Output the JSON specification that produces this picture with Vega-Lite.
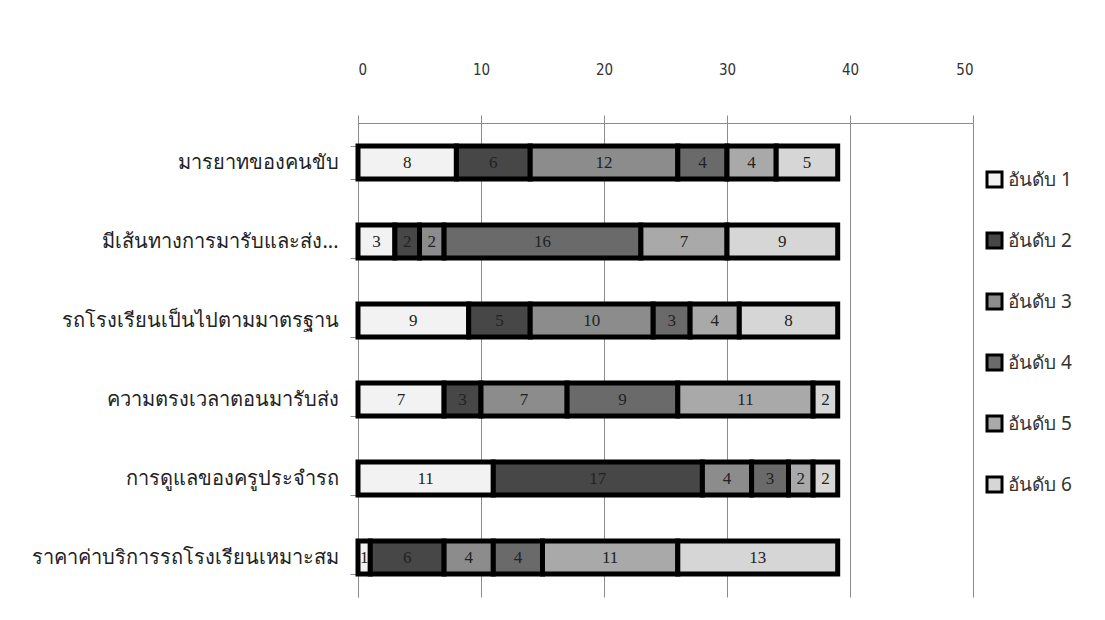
{
  "$schema": "https://vega.github.io/schema/vega-lite/v6.json",
  "width": 615,
  "height": 474,
  "autosize": {"type": "none"},
  "padding": {"left": 358, "top": 123, "right": 132, "bottom": 23},
  "background": "white",
  "config": {
    "view": {"stroke": null},
    "font": "Noto Sans"
  },
  "data": {
    "values": [
      {"item": "มารยาทของคนขับ", "rank": "อันดับ 1", "count": 8},
      {"item": "มารยาทของคนขับ", "rank": "อันดับ 2", "count": 6},
      {"item": "มารยาทของคนขับ", "rank": "อันดับ 3", "count": 12},
      {"item": "มารยาทของคนขับ", "rank": "อันดับ 4", "count": 4},
      {"item": "มารยาทของคนขับ", "rank": "อันดับ 5", "count": 4},
      {"item": "มารยาทของคนขับ", "rank": "อันดับ 6", "count": 5},
      {"item": "มีเส้นทางการมารับและส่ง...", "rank": "อันดับ 1", "count": 3},
      {"item": "มีเส้นทางการมารับและส่ง...", "rank": "อันดับ 2", "count": 2},
      {"item": "มีเส้นทางการมารับและส่ง...", "rank": "อันดับ 3", "count": 2},
      {"item": "มีเส้นทางการมารับและส่ง...", "rank": "อันดับ 4", "count": 16},
      {"item": "มีเส้นทางการมารับและส่ง...", "rank": "อันดับ 5", "count": 7},
      {"item": "มีเส้นทางการมารับและส่ง...", "rank": "อันดับ 6", "count": 9},
      {"item": "รถโรงเรียนเป็นไปตามมาตรฐาน", "rank": "อันดับ 1", "count": 9},
      {"item": "รถโรงเรียนเป็นไปตามมาตรฐาน", "rank": "อันดับ 2", "count": 5},
      {"item": "รถโรงเรียนเป็นไปตามมาตรฐาน", "rank": "อันดับ 3", "count": 10},
      {"item": "รถโรงเรียนเป็นไปตามมาตรฐาน", "rank": "อันดับ 4", "count": 3},
      {"item": "รถโรงเรียนเป็นไปตามมาตรฐาน", "rank": "อันดับ 5", "count": 4},
      {"item": "รถโรงเรียนเป็นไปตามมาตรฐาน", "rank": "อันดับ 6", "count": 8},
      {"item": "ความตรงเวลาตอนมารับส่ง", "rank": "อันดับ 1", "count": 7},
      {"item": "ความตรงเวลาตอนมารับส่ง", "rank": "อันดับ 2", "count": 3},
      {"item": "ความตรงเวลาตอนมารับส่ง", "rank": "อันดับ 3", "count": 7},
      {"item": "ความตรงเวลาตอนมารับส่ง", "rank": "อันดับ 4", "count": 9},
      {"item": "ความตรงเวลาตอนมารับส่ง", "rank": "อันดับ 5", "count": 11},
      {"item": "ความตรงเวลาตอนมารับส่ง", "rank": "อันดับ 6", "count": 2},
      {"item": "การดูแลของครูประจำรถ", "rank": "อันดับ 1", "count": 11},
      {"item": "การดูแลของครูประจำรถ", "rank": "อันดับ 2", "count": 17},
      {"item": "การดูแลของครูประจำรถ", "rank": "อันดับ 3", "count": 4},
      {"item": "การดูแลของครูประจำรถ", "rank": "อันดับ 4", "count": 3},
      {"item": "การดูแลของครูประจำรถ", "rank": "อันดับ 5", "count": 2},
      {"item": "การดูแลของครูประจำรถ", "rank": "อันดับ 6", "count": 2},
      {"item": "ราคาค่าบริการรถโรงเรียนเหมาะสม", "rank": "อันดับ 1", "count": 1},
      {"item": "ราคาค่าบริการรถโรงเรียนเหมาะสม", "rank": "อันดับ 2", "count": 6},
      {"item": "ราคาค่าบริการรถโรงเรียนเหมาะสม", "rank": "อันดับ 3", "count": 4},
      {"item": "ราคาค่าบริการรถโรงเรียนเหมาะสม", "rank": "อันดับ 4", "count": 4},
      {"item": "ราคาค่าบริการรถโรงเรียนเหมาะสม", "rank": "อันดับ 5", "count": 11},
      {"item": "ราคาค่าบริการรถโรงเรียนเหมาะสม", "rank": "อันดับ 6", "count": 13}
    ]
  },
  "encoding": {
    "y": {
      "field": "item",
      "type": "nominal",
      "sort": null,
      "title": null,
      "scale": {"paddingInner": 0.58, "paddingOuter": 0.29},
      "axis": {
        "orient": "left",
        "domainColor": "#8c8c8c",
        "tickColor": "#8c8c8c",
        "tickSize": 8,
        "tickBand": "extent",
        "labelPadding": 12,
        "labelFontSize": 20,
        "labelColor": "#222222",
        "labelLimit": 400
      }
    }
  },
  "layer": [
    {
      "mark": {"type": "bar", "stroke": "black", "strokeWidth": 5},
      "encoding": {
        "x": {
          "field": "count",
          "type": "quantitative",
          "stack": "zero",
          "title": null,
          "scale": {"domain": [0, 50], "nice": false},
          "axis": {
            "orient": "top",
            "values": [0, 10, 20, 30, 40, 50],
            "grid": true,
            "gridColor": "#8c8c8c",
            "domainColor": "#8c8c8c",
            "tickColor": "#8c8c8c",
            "tickSize": 8,
            "labelPadding": 38,
            "labelFontSize": 15,
            "labelColor": "#333333",
            "labelFont": "DejaVu Sans Condensed"
          }
        },
        "color": {
          "field": "rank",
          "type": "nominal",
          "scale": {
            "domain": ["อันดับ 1", "อันดับ 2", "อันดับ 3", "อันดับ 4", "อันดับ 5", "อันดับ 6"],
            "range": ["#f2f2f2", "#474747", "#8c8c8c", "#6a6a6a", "#a9a9a9", "#d6d6d6"]
          },
          "legend": {
            "title": null,
            "orient": "none",
            "legendX": 627,
            "legendY": 47,
            "symbolType": "square",
            "symbolSize": 225,
            "symbolStrokeColor": "black",
            "symbolStrokeWidth": 3,
            "symbolOpacity": 1,
            "rowPadding": 34,
            "labelFontSize": 19,
            "labelColor": "#333333",
            "labelOffset": 4
          }
        },
        "order": {"field": "rank"}
      }
    },
    {
      "mark": {"type": "text", "fontSize": 17, "color": "#222222", "font": "Liberation Serif"},
      "encoding": {
        "x": {"field": "count", "type": "quantitative", "stack": "zero", "bandPosition": 0.5},
        "detail": {"field": "rank"},
        "order": {"field": "rank"},
        "text": {"field": "count", "type": "quantitative"}
      }
    }
  ]
}
